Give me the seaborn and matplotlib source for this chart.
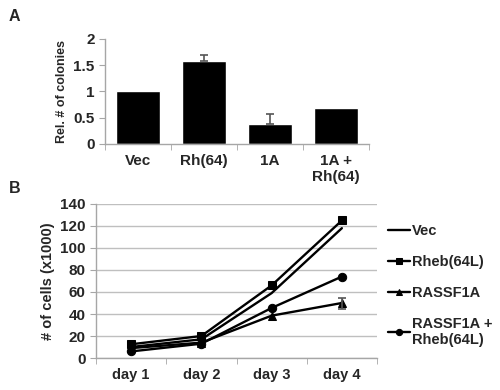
import matplotlib
matplotlib.use("Agg")
import matplotlib.pyplot as plt
import seaborn as sns
import pandas as pd
import numpy as np

sns.set_style("white")
plt.rcParams['font.family'] = ['Liberation Sans', 'DejaVu Sans']
plt.rcParams['font.weight'] = 'bold'

# Panel A data
a_categories = ["Vec", "Rh(64)", "1A", "1A +\nRh(64)"]
a_values = [1.0, 1.58, 0.38, 0.68]
a_errors = [0.0, 0.12, 0.19, 0.0]
a_yticks = [0, 0.5, 1, 1.5, 2]
a_yticklabels = ["0", "0.5", "1", "1.5", "2"]

# Panel B data
b_days = ["day 1", "day 2", "day 3", "day 4"]
b_vec = [10, 17, 59, 118]
b_rheb = [12.5, 20, 66, 125]
b_rassf = [9, 14, 38.5, 50]
b_rassf_err = [0, 0, 0, 5]
b_combo = [6, 13, 45.5, 74]
b_series = ["Vec", "Rheb(64L)", "RASSF1A", "RASSF1A +\nRheb(64L)"]
b_yticks = [0, 20, 40, 60, 80, 100, 120, 140]

spine_col = "#a6a6a6"
tick_fs = 11
lab_fs_a = 9
lab_fs_b = 10.5

fig = plt.figure(figsize=(5, 3.9), dpi=100)

# ---------- Panel A ----------
axA = fig.add_axes([0.21, 0.631, 0.528, 0.269])
dfA = pd.DataFrame({"cat": a_categories, "val": a_values})
sns.barplot(data=dfA, x="cat", y="val", color="black", width=0.67,
            saturation=1, ax=axA, errorbar=None)
xpos = np.arange(len(a_categories))
errs = np.array(a_errors)
mask = errs > 0
axA.errorbar(xpos[mask], np.array(a_values)[mask],
             yerr=[np.zeros(mask.sum()), errs[mask]],
             fmt="none", ecolor="#555555", elinewidth=1.2, capsize=3, capthick=1.2)
axA.set_xlim(-0.5, 3.5)
axA.set_ylim(0, 2)
axA.set_yticks(a_yticks)
axA.set_yticklabels(a_yticklabels)
axA.set_xticks(xpos)
axA.set_xticklabels(a_categories)
axA.set_xlabel("")
axA.set_ylabel("Rel. # of colonies", fontsize=lab_fs_a, fontweight="bold")
for s in ["top", "right"]:
    axA.spines[s].set_visible(False)
for s in ["left", "bottom"]:
    axA.spines[s].set_color(spine_col)
    axA.spines[s].set_linewidth(1)
axA.tick_params(axis="x", length=0, labelsize=tick_fs, pad=7)
axA.tick_params(axis="y", length=4, color=spine_col, direction="out", left=True, labelsize=tick_fs)
axA.set_xticks(np.arange(-0.5, 4.0, 1.0), minor=True)
axA.tick_params(axis="x", which="minor", length=4, color=spine_col, direction="out", bottom=True)
for lab in axA.get_xticklabels() + axA.get_yticklabels():
    lab.set_fontweight("bold")
fig.text(0.018, 0.978, "A", fontsize=11.5, fontweight="bold", va="top")

# ---------- Panel B ----------
axB = fig.add_axes([0.192, 0.082, 0.562, 0.395])
rows = []
for name, vals in zip(b_series, [b_vec, b_rheb, b_rassf, b_combo]):
    for i, v in enumerate(vals):
        rows.append({"series": name, "x": i, "y": v})
dfB = pd.DataFrame(rows)
markers = {b_series[0]: None, b_series[1]: "s", b_series[2]: "^", b_series[3]: "o"}
for s in b_series:
    sub = dfB[dfB["series"] == s]
    sns.lineplot(data=sub, x="x", y="y", color="black", marker=markers[s],
                 markersize=6, markeredgecolor="black", linewidth=1.7,
                 ax=axB, label=s)
re = np.array(b_rassf_err)
mk = re > 0
axB.errorbar(np.arange(4)[mk], np.array(b_rassf)[mk], yerr=re[mk], fmt="none",
             ecolor="#555555", elinewidth=1.2, capsize=3, capthick=1.2)
axB.set_xlim(-0.5, 3.5)
axB.set_ylim(0, 140)
axB.set_yticks(b_yticks)
axB.set_xticks(np.arange(4))
axB.set_xticklabels(b_days)
axB.set_xlabel("")
axB.set_ylabel("# of cells (x1000)", fontsize=lab_fs_b, fontweight="bold")
axB.yaxis.grid(True, color="#bfbfbf", linewidth=1)
axB.set_axisbelow(True)
for s in ["top", "right"]:
    axB.spines[s].set_visible(False)
for s in ["left", "bottom"]:
    axB.spines[s].set_color(spine_col)
    axB.spines[s].set_linewidth(1)
axB.tick_params(axis="x", length=0, labelsize=10.5, pad=7)
axB.tick_params(axis="y", length=4, color=spine_col, direction="out", left=True, labelsize=tick_fs)
axB.set_xticks(np.arange(-0.5, 4.0, 1.0), minor=True)
axB.tick_params(axis="x", which="minor", length=4, color=spine_col, direction="out", bottom=True)
for lab in axB.get_xticklabels() + axB.get_yticklabels():
    lab.set_fontweight("bold")
leg = axB.legend(loc="upper left", bbox_to_anchor=(1.02, 0.905), frameon=False,
                 fontsize=10.5, handlelength=1.5, handletextpad=0.1, labelspacing=1.15,
                 borderaxespad=0)
for t in leg.get_texts():
    t.set_fontweight("bold")
for h in leg.legend_handles:
    try:
        h.set_markersize(4.5)
    except Exception:
        pass
fig.text(0.018, 0.535, "B", fontsize=11.5, fontweight="bold", va="top")

fig.savefig("out.png", dpi=100)
